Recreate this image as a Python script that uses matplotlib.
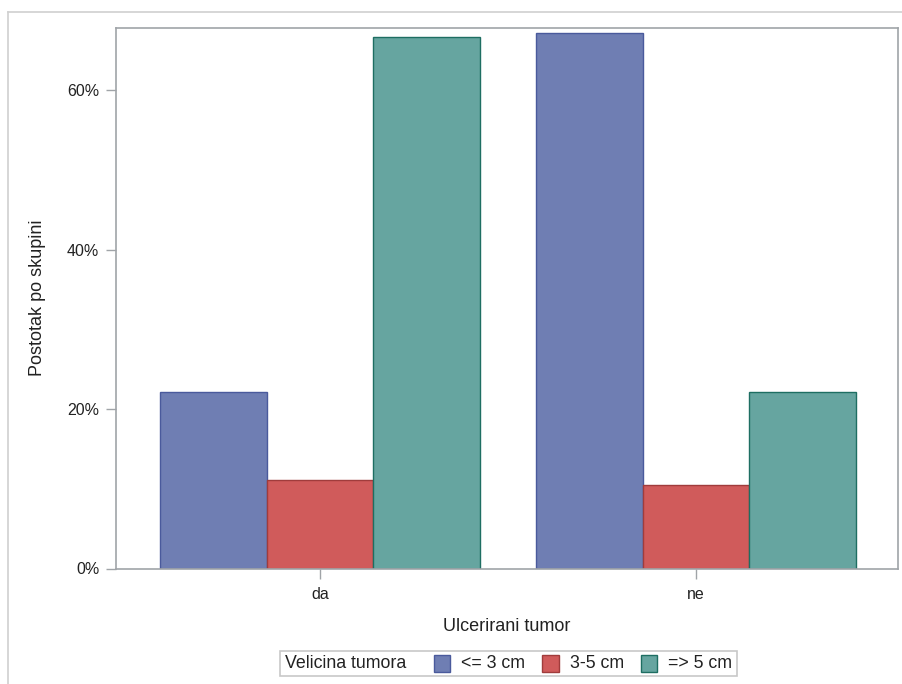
import numpy as np
import matplotlib
matplotlib.use('Agg')
import matplotlib.pyplot as plt
from matplotlib.patches import Rectangle
from matplotlib.lines import Line2D
from matplotlib.offsetbox import AnchoredOffsetbox, HPacker, TextArea, DrawingArea

plt.rcParams['font.family'] = ['Liberation Sans', 'DejaVu Sans']

categories = ['da', 'ne']
sizes = ['<= 3 cm', '3-5 cm', '=> 5 cm']
# postotak po skupini, one list per tumour size
small = [22.2, 67.2]
medium = [11.1, 10.5]
large = [66.7, 22.2]
values = [small, medium, large]
yticks = [0, 20, 40, 60]

fills = ['#6F7EB3', '#D05B5B', '#66A5A0']
edges = ['#4A5A9C', '#A03C3C', '#1E6E62']
spine_col = '#A0A4A8'
txt_col = '#222222'

fig = plt.figure(figsize=(9.03, 6.84), dpi=100)
W, H = 903, 684
ax = fig.add_axes([116 / W, 1 - 568.5 / H, (898 - 116) / W, (568.5 - 27.5) / H])

# light outer border (only top and left visible)
fig.add_artist(Line2D([8 / W, 1], [1 - 12 / H, 1 - 12 / H], transform=fig.transFigure,
                      color='#D0D0D0', lw=1.2))
fig.add_artist(Line2D([8 / W, 8 / W], [0, 1 - 12 / H], transform=fig.transFigure,
                      color='#D0D0D0', lw=1.2))

x = np.arange(len(categories))
w = 0.2837
for i, vals in enumerate(values):
    ax.bar(x + (i - 1) * w, vals, width=w, color=fills[i], edgecolor=edges[i], linewidth=1)

ax.set_xlim(-0.5426, 1.537)
ax.set_ylim(0, 67.9)
ax.set_xticks(x)
ax.set_xticklabels(categories)
ax.set_yticks(yticks)
ax.set_yticklabels([f'{t}%' for t in yticks])

for s in ax.spines.values():
    s.set_color(spine_col)
    s.set_linewidth(1.2)
ax.tick_params(axis='both', length=7, width=1, color=spine_col, labelsize=11.5,
               labelcolor=txt_col)
ax.tick_params(axis='x', pad=6)
ax.tick_params(axis='y', pad=5)

ax.set_xlabel('Ulcerirani tumor', fontsize=13, color=txt_col, labelpad=12)
ax.set_ylabel('Postotak po skupini', fontsize=13, color=txt_col, labelpad=15)

# legend with the title inline on the left
entries = []
for i, lab in enumerate(sizes):
    da = DrawingArea(12, 12, 0, 0)
    da.add_artist(Rectangle((0, 0), 12, 12, facecolor=fills[i], edgecolor=edges[i], lw=1))
    entries.append(HPacker(children=[da, TextArea(lab, textprops=dict(fontsize=12.8, color=txt_col))],
                           align='center', pad=0, sep=8))
title = TextArea('Velicina tumora', textprops=dict(fontsize=12.8, color=txt_col))
box = HPacker(children=[title, HPacker(children=entries, align='center', pad=0, sep=12)],
              align='center', pad=0, sep=20)
leg = AnchoredOffsetbox(loc='center', child=box, pad=0.3, borderpad=0,
                        bbox_to_anchor=(508.5 / W, 1 - 663.5 / H),
                        bbox_transform=fig.transFigure, frameon=True)
leg.patch.set_edgecolor('#C8C8C8')
leg.patch.set_linewidth(1.2)
leg.patch.set_boxstyle('square', pad=0)
fig.add_artist(leg)

fig.savefig('out.png', dpi=100, facecolor='white')
